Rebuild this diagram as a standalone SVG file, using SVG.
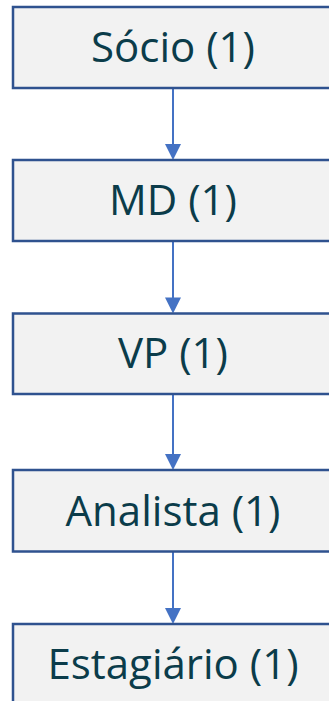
<svg xmlns="http://www.w3.org/2000/svg" width="329" height="701" viewBox="0 0 329 701">
  <defs>
    <style>
      .box { fill: #F2F2F2; stroke: #2F528F; stroke-width: 2.5; }
      .lbl { font-family: "Open Sans", "Liberation Sans", sans-serif; font-size: 42px; fill: #0B3C4A; text-anchor: middle; }
      .conn { stroke: #4472C4; stroke-width: 2; fill: none; }
      .head { fill: #4472C4; }
    </style>
  </defs>
  <rect width="329" height="701" fill="#FFFFFF"/>
  <g id="connectors">
    <line class="conn" x1="173" y1="88" x2="173" y2="146"/>
    <polygon class="head" points="165,144 181,144 173,160"/>
    <line class="conn" x1="173" y1="241" x2="173" y2="299"/>
    <polygon class="head" points="165,297.5 181,297.5 173,313.5"/>
    <line class="conn" x1="173" y1="394" x2="173" y2="456"/>
    <polygon class="head" points="165,454 181,454 173,470"/>
    <line class="conn" x1="173" y1="552" x2="173" y2="610"/>
    <polygon class="head" points="165,608 181,608 173,624"/>
  </g>
  <g id="node-socio">
    <rect class="box" x="13" y="7" width="320" height="81"/>
    <text class="lbl" x="173" y="62">Sócio (1)</text>
  </g>
  <g id="node-md">
    <rect class="box" x="13" y="160" width="320" height="81"/>
    <text class="lbl" x="173" y="215">MD (1)</text>
  </g>
  <g id="node-vp">
    <rect class="box" x="13" y="313.5" width="320" height="80.5"/>
    <text class="lbl" x="173" y="368">VP (1)</text>
  </g>
  <g id="node-analista">
    <rect class="box" x="13" y="470" width="320" height="81.5"/>
    <text class="lbl" x="173" y="526">Analista (1)</text>
  </g>
  <g id="node-estagiario">
    <rect class="box" x="13" y="624" width="320" height="90"/>
    <text class="lbl" x="173" y="679">Estagiário (1)</text>
  </g>
</svg>
